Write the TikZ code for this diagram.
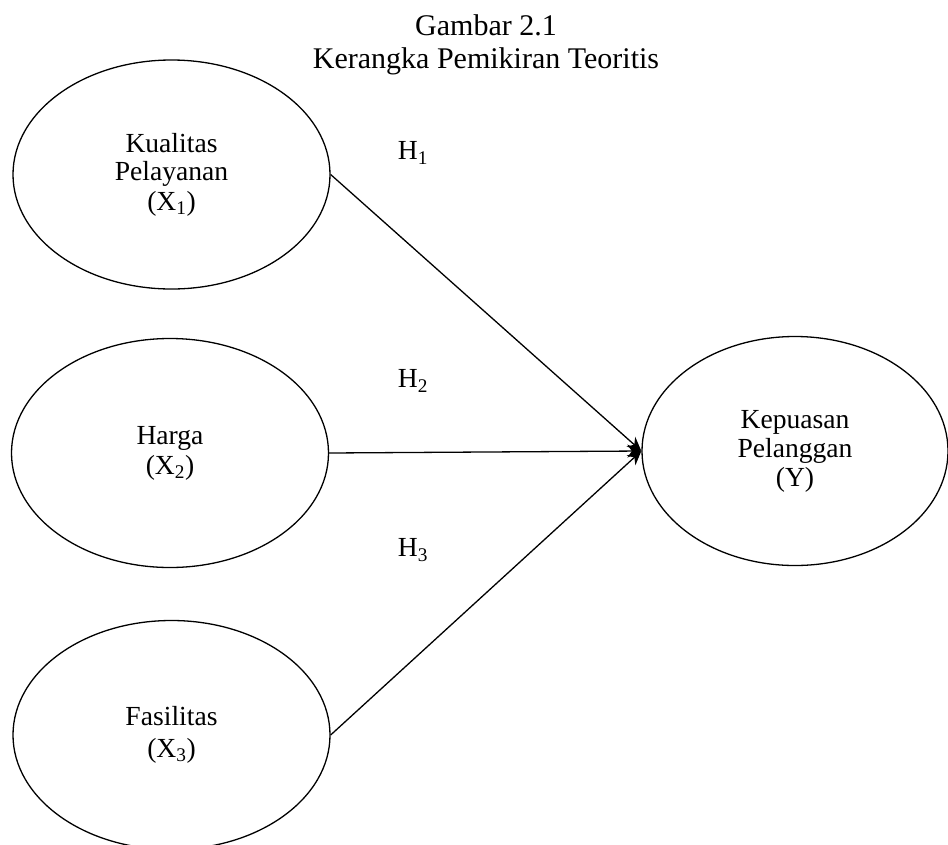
\documentclass[tikz,border=0pt]{standalone}
\usepackage{fontspec}
\setmainfont{Liberation Serif}
\usepackage{tikz}
\usetikzlibrary{shapes.geometric, positioning, arrows.meta}

\tikzset{
  var/.style = {ellipse, draw, line width = 1.3pt, inner sep = 0pt,
    minimum width = 317pt, minimum height = 229pt, align = center,
    font = \fontsize{27.6}{28}\selectfont},
  hyp/.style = {font = \fontsize{27.6}{30}\selectfont},
  judul/.style = {font = \fontsize{30}{33}\selectfont, anchor = base},
  panah/.style = {-{Stealth[length = 14pt, width = 13pt]}}
}

\begin{document}
\begin{tikzpicture} [x = 1pt, y = -1pt, line width = 1.3pt]

        \useasboundingbox (0,0) rectangle (948,844);

        \node (t1) [judul] at (486,35) {Gambar 2.1};
        \node (t2) [judul] at (486,68) {Kerangka Pemikiran Teoritis};

        \node (x1) [var] at (171.5,174.5) {Kualitas\\Pelayanan\\[2pt](X\textsubscript{1})};
        \node (x2) [var] at (170,453) {Harga\\[2pt](X\textsubscript{2})};
        \node (x3) [var] at (171.5,735) {Fasilitas\\[4pt](X\textsubscript{3})};
        \node (y) [var, minimum width = 306pt] at (795,451)
        {Kepuasan\\[1pt]Pelanggan\\[1pt](Y)};

        \node (h1) [hyp] at (413,153) {H\textsubscript{1}};
        \node (h2) [hyp] at (413,381) {H\textsubscript{2}};
        \node (h3) [hyp] at (413,550) {H\textsubscript{3}};

        \path [panah]
         (x1.east) edge (y.west) (x2.east) edge (y.west)
         (x3.east) edge (y.west);

\end{tikzpicture}
\end{document}
